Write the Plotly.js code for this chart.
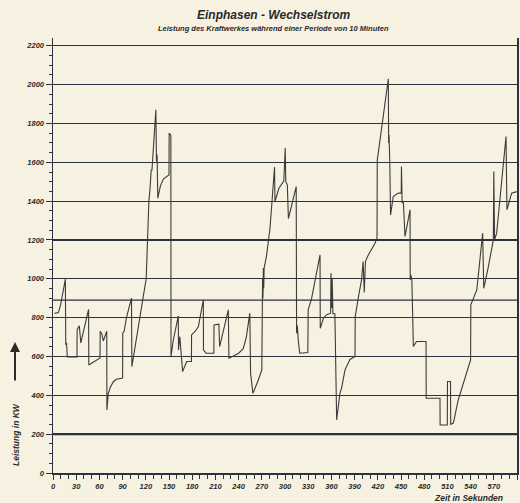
<!DOCTYPE html>
<html>
<head>
<meta charset="utf-8">
<script src="https://cdn.plot.ly/plotly-3.0.1.min.js"></script>
<style>
html,body{margin:0;padding:0;background:#f6f1e0;}
#chart{width:520px;height:503px;}
</style>
</head>
<body>
<div id="chart"></div>
<script>
// Time in seconds
const zeit = [
  2, 7, 10, 13, 16, 16.5, 17.5, 18.5, 31, 31.2, 34, 36, 41, 46, 46.3, 52, 57, 60.8, 61, 63, 65, 68, 69.5, 69.7,
  71.5, 74, 78, 82, 90, 90.2, 92, 95, 101.5, 102, 106, 112.5, 118, 120.5, 122, 124, 125.5, 126.5, 127, 128,
  133, 133.8, 134.6, 135.5, 139, 143, 149, 150, 150.2, 152.4, 152.6, 155.6, 162, 162.3, 164, 167.6, 172.8, 179,
  179.2, 184, 188, 194.4, 194.6, 198, 208, 208.2, 214.5, 215.5, 226.7, 227.5, 232, 240, 246, 250, 254.5, 255.5,
  258.5, 262, 265.5, 270, 270.3, 271, 271.5, 272, 272.5, 273, 276, 280.6, 283, 286.5, 287, 292, 298.5, 300.3,
  301, 303, 304.4, 310, 314.5, 315, 316, 317, 319, 329.5, 330, 334.5, 345.3, 345.6, 349.6, 354, 359, 359.5,
  360.5, 361, 362, 364.5, 366.8, 371, 373.3, 377.6, 384, 390.5, 390.8, 395, 399, 401, 402.5, 404, 407.7, 416.4,
  419, 419.3, 433.6, 434, 434.5, 435.5, 436.5, 440, 446.5, 450.3, 450.6, 451.5, 453, 455.2, 461.7, 461.9, 462.5,
  464, 466, 470, 482.4, 482.6, 500.4, 500.6, 509.9, 510.1, 514, 514.3, 517.7, 524, 532.8, 540, 540.3, 548,
  555.6, 557, 563, 569.4, 570, 571, 573.7, 585.8, 587, 593, 599.6
];
// Output in kW
const leistung = [
  822, 826, 870, 940, 998, 660, 670, 597, 598, 737, 758, 670, 760, 842, 556, 570, 585, 592, 730, 718, 680, 720, 730, 325,
  410, 440, 470, 483, 489, 720, 730, 800, 900, 548, 651, 805, 940, 998, 1183, 1400, 1467, 1520, 1560, 1560,
  1870, 1604, 1640, 1415, 1480, 1515, 1535, 1535, 1750, 1740, 600, 685, 809, 634, 702, 522, 574, 574,
  711, 730, 754, 891, 634, 617, 617, 762, 766, 651, 840, 591, 600, 617, 640, 700, 823, 514,
  410, 440, 479, 531, 874, 1000, 900, 1055, 950, 1055, 1115, 1260, 1398, 1575, 1398, 1465, 1505, 1673,
  1500, 1484, 1310, 1400, 1475, 720, 760, 690, 617, 620, 840, 900, 1123, 745, 797, 815, 823, 1029,
  850, 1000, 820, 820, 273, 410, 440, 531, 585, 600, 805, 908, 994, 1089, 930, 1090, 1123, 1183,
  1210, 1610, 2030, 1699, 1740, 1600, 1329, 1424, 1441, 1441, 1578, 1390, 1400, 1218, 1355, 994, 1020,
  1000, 651, 677, 677, 385, 385, 247, 247, 471, 471, 250, 257, 376, 496, 582, 866, 943,
  1235, 951, 1063, 1200, 1552, 1200, 1235, 1733, 1355, 1441, 1449
];
const xTicks = [0,30,60,90,120,150,180,210,240,270,300,330,360,390,420,450,480,510,540,570,600];
const yTicks = [0,200,400,600,800,1000,1200,1400,1600,1800,2000,2200];

const gridCol = '#2c3140';
const font = {family:'Liberation Sans, Arial, sans-serif', size:7.5, color:'#2a2a2a', weight:'bold', style:'italic'};

const trace = {
  x: zeit, y: leistung, type:'scatter', mode:'lines',
  line:{color:'#3b3b3b', width:1.1, shape:'linear'},
  hoverinfo:'skip'
};

const layout = {
  width:520, height:503,
  margin:{l:53, r:3, t:38, b:30},
  paper_bgcolor:'#f6f1e0', plot_bgcolor:'#f6f1e0',
  showlegend:false,
  xaxis:{
    range:[0,600], tickvals:xTicks, ticktext:xTicks.map(String),
    ticks:'outside', ticklen:5, tickwidth:1, tickcolor:gridCol,
    minor:{dtick:10, ticks:'outside', ticklen:4, tickcolor:gridCol},
    showgrid:false, zeroline:false, showline:true, linecolor:gridCol, linewidth:1.5,
    tickfont:font, fixedrange:true
  },
  yaxis:{
    range:[0,2240], tickvals:yTicks, ticktext:yTicks.map(String),
    ticks:'outside', ticklen:6, tickwidth:1, tickcolor:gridCol,
    minor:{dtick:50, ticks:'outside', ticklen:3, tickcolor:gridCol},
    showgrid:true, gridcolor:gridCol, gridwidth:1.2,
    zeroline:false, showline:true, linecolor:gridCol, linewidth:1.5, mirror:true,
    tickfont:font, fixedrange:true
  },
  shapes:[
    {type:'line', xref:'paper', x0:0, x1:1, yref:'y', y0:890, y1:890, line:{color:gridCol, width:1.1}},
    {type:'line', xref:'paper', x0:0, x1:1, yref:'y', y0:200, y1:200, line:{color:gridCol, width:2.2}}
  ],
  annotations:[
    {text:'Einphasen - Wechselstrom', xref:'paper', yref:'paper', x:(273-53)/464, y:(473-15)/435,
     showarrow:false, xanchor:'center', yanchor:'middle',
     font:{family:'Liberation Sans, Arial, sans-serif', size:12, color:'#2a2a2a', weight:'bold', style:'italic'}},
    {text:'Leistung des Kraftwerkes während einer Periode von 10 Minuten', xref:'paper', yref:'paper',
     x:(273-53)/464, y:(473-28)/435, showarrow:false, xanchor:'center', yanchor:'middle',
     font:{family:'Liberation Sans, Arial, sans-serif', size:7.5, color:'#2a2a2a', weight:'bold', style:'italic'}},
    {text:'Zeit in Sekunden', xref:'paper', yref:'paper', x:(468-53)/464, y:(473-498)/435,
     showarrow:false, xanchor:'center', yanchor:'middle',
     font:{family:'Liberation Sans, Arial, sans-serif', size:8.5, color:'#2a2a2a', weight:'bold', style:'italic'}},
    {text:'Leistung in KW', xref:'paper', yref:'paper', x:(16-53)/464, y:(473-435)/435,
     showarrow:false, textangle:-90, xanchor:'center', yanchor:'middle',
     font:{family:'Liberation Sans, Arial, sans-serif', size:8.5, color:'#2a2a2a', weight:'bold', style:'italic'}},
    {text:'', xref:'paper', yref:'paper', x:(15-53)/464, y:(473-342)/435,
     ax:(15-53)/464, ay:(473-382)/435, axref:'paper', ayref:'paper',
     showarrow:true, arrowhead:2, arrowsize:1, arrowwidth:2, arrowcolor:'#2a2a2a'}
  ]
};

Plotly.newPlot('chart', [trace], layout, {staticPlot:true, displayModeBar:false});
</script>
</body>
</html>
